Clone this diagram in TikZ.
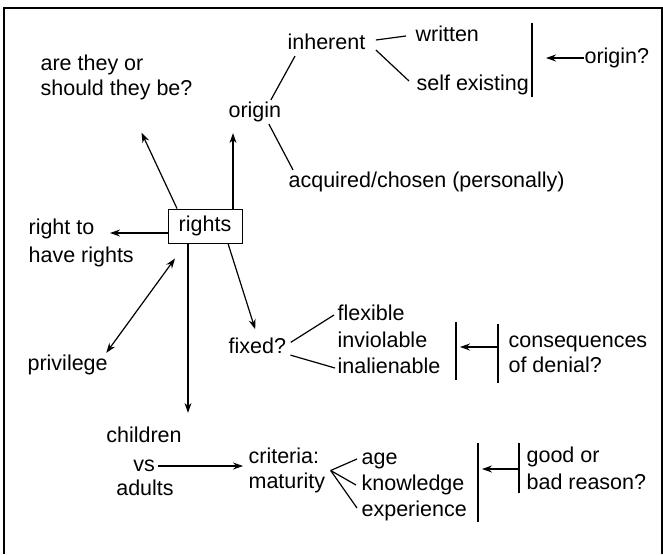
\documentclass[tikz,border=0pt]{standalone}
\usepackage{fontspec}
\setmainfont{Liberation Sans}
\usetikzlibrary{arrows.meta}

\begin{document}
\begin{tikzpicture}[x=1pt, y=-1pt, >={Stealth[length=10pt,width=7pt]}, line width=1.2pt,
    every node/.style={font=\fontsize{21.5}{25}\selectfont},
    txt/.style={anchor=west, inner xsep=0pt, inner ysep=2pt,
        text height=15pt, text depth=4pt},
    blk/.style={anchor=west, inner xsep=0pt, inner ysep=2pt, align=left},
    bar/.style={line width=1.4pt}]
    \useasboundingbox (0,0) rectangle (663,554);
    \draw[line width=1.5pt] (4,554) -- (4,8) -- (662,8) -- (662,554);

    \node[draw, line width=1pt, minimum width=74pt, minimum height=34pt,
        inner sep=0pt] (rights) at (205,226) {rights};

    \node[blk] (quest) at (40,77.5) {are they or\\should they be?};
    \node[txt] (inh) at (287,44) {inherent};
    \node[txt] (writ) at (415,36) {written};
    \node[txt] (self) at (416,85) {self existing};
    \node[txt] (orig) at (228,112) {origin};
    \node[txt] (acq) at (288,182) {acquired/chosen (personally)};
    \node[txt] (origq) at (584,58) {origin?};
    \node[blk, font=\fontsize{21.5}{28}\selectfont] (hasr) at (28,242.5) {right to\\have rights};
    \node[txt] (priv) at (27,365) {privilege};
    \node[txt] (fixed) at (228,348) {fixed?};
    \node[txt] (flex) at (337,315) {flexible};
    \node[txt] (inv) at (337,342) {inviolable};
    \node[txt] (inal) at (337,368) {inalienable};
    \node[blk] (cons) at (508,354.5) {consequences\\of denial?};
    \node[txt, anchor=center] (vs) at (144,466) {vs};
    \node[txt, anchor=center] (child) at (144,437) {children};
    \node[txt, anchor=center] (adult) at (145,490) {adults};
    \node[blk] (crit) at (248,470.5) {criteria:\\maturity};
    \node[txt] (age) at (361,459) {age};
    \node[txt] (know) at (361,485) {knowledge};
    \node[txt] (exper) at (361,511) {experience};
    \node[blk, font=\fontsize{21.5}{27}\selectfont] (reas) at (526,468.5) {good or\\bad reason?};

    % brackets
    \coordinate (b1t) at (532,23);  \coordinate (b1b) at (532,97);
    \coordinate (b2t) at (456,322); \coordinate (b2b) at (456,380);
    \coordinate (b3t) at (498,324); \coordinate (b3b) at (498,383);
    \coordinate (b4t) at (478,443); \coordinate (b4b) at (478,522);
    \coordinate (b5t) at (519,443); \coordinate (b5b) at (519,493);
    \coordinate (b3m) at (498,347);
    \coordinate (b5m) at (519,469);
    \draw[bar] (b1t) -- (b1b);
    \draw[bar] (b2t) -- (b2b);
    \draw[bar] (b3t) -- (b3b);
    \draw[bar] (b4t) -- (b4b);
    \draw[bar] (b5t) -- (b5b);

    \draw[->] ([xshift=-28pt]rights.north) -- ([xshift=25pt,yshift=-30pt]quest.south);
    \draw[->, shorten >=9pt] ([xshift=28pt]rights.north) -- ([xshift=28pt]rights.north |- orig.south);
    \draw[->] ([yshift=-7pt]rights.west) -- ([xshift=82pt,yshift=9.5pt]hasr.west);
    \draw[<->] ([xshift=-30pt,yshift=-15pt]rights.south) -- ([xshift=-2pt]priv.north east);
    \draw[->, shorten >=12pt] ([xshift=-17pt]rights.south) -- ([xshift=-17pt]rights.south |- child.north);
    \draw[->, shorten >=7pt] ([xshift=23pt]rights.south) -- (fixed.north);

    \draw ([xshift=8pt]inh.south west) -- ([xshift=16pt]orig.north);
    \draw ([xshift=14pt]orig.south) -- ([xshift=5pt]acq.north west);
    \draw ([xshift=10pt,yshift=4pt]inh.east) -- ([xshift=-9pt]writ.west);
    \draw ([xshift=10pt,yshift=-6pt]inh.east) -- ([xshift=-7pt,yshift=4pt]self.west);
    \draw[->, shorten >=14pt] (origq.west) -- (origq.west -| b1t);

    \draw[shorten <=5pt] ([yshift=3pt]fixed.east) -- ([xshift=-3pt]flex.west);
    \draw[shorten <=4pt] ([yshift=-6pt]fixed.east) -- ([xshift=-2pt]inal.west);
    \draw[->, shorten >=4pt] (b3m) -- (b3m -| b2t);

    \draw[->, shorten <=3pt, shorten >=5pt] (vs.east) -- (vs.east -| crit.west);
    \coordinate (fan) at ([xshift=5pt]crit.east);
    \draw (fan) -- ([xshift=-4pt]age.west);
    \draw (fan) -- ([xshift=-5pt]know.west);
    \draw (fan) -- ([xshift=-4pt,yshift=3pt]exper.west);
    \draw[->, shorten >=4pt] (b5m) -- (b5m -| b4t);
\end{tikzpicture}
\end{document}
